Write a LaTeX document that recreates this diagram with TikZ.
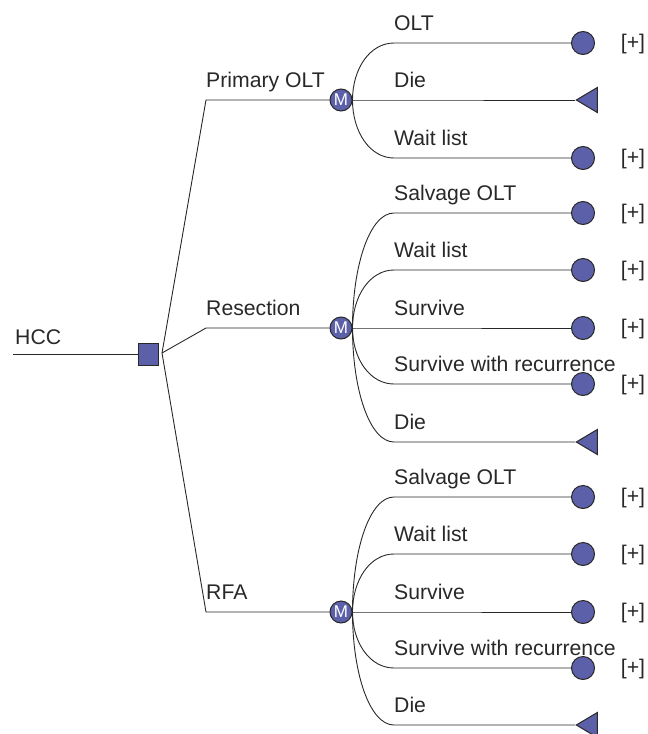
\documentclass[tikz,border=0pt]{standalone}
\usepackage{fontspec}
\setmainfont{Liberation Sans}
\usetikzlibrary{shapes.geometric}
\definecolor{nodeFill}{RGB}{92,96,168}
\definecolor{lineGray}{RGB}{40,40,40}
\begin{document}
\begin{tikzpicture}
[x=1pt,y=-1pt,
  lineDecorate/.style={-,line width=0.9pt,draw=lineGray},%
  decisionDecorate/.style={shape=rectangle,minimum width=20pt,minimum height=22pt,inner sep=0pt,draw=lineGray,line width=1pt,fill=nodeFill},%
  chanceDecorate/.style={shape=circle,minimum size=22pt,inner sep=0pt,draw=lineGray,line width=1pt,fill=nodeFill,text=white,font=\fontsize{17}{17}\selectfont},%
  endDecorate/.style={shape=circle,minimum size=23pt,inner sep=0pt,draw=lineGray,line width=1pt,fill=nodeFill},%
  dieDecorate/.style={shape=isosceles triangle,isosceles triangle stretches,shape border rotate=180,minimum width=25pt,minimum height=21pt,inner sep=0pt,draw=lineGray,line width=1pt,fill=nodeFill,anchor=apex},%
  textDecorate/.style={anchor=base west,inner sep=0pt,text=lineGray,font=\fontsize{21.2}{25}\selectfont}]
\useasboundingbox (0,0) rectangle (648,734);
%% root decision
\node (hcc) at (148,354) [decisionDecorate] {};
\coordinate (hccIn) at (13,354);
\coordinate (fork) at (162,353);
\node [textDecorate] at (15,344) {HCC};
\draw [lineDecorate] (hccIn) -- (hcc.west);
%% strategies
\foreach \nodename/\ypos/\caption in {
  olt/100/Primary OLT, res/328/Resection, rfa/612/RFA}
{
  \node (\nodename) at (341,\ypos) [chanceDecorate] {M};
  \coordinate (\nodename Bend) at (206,\ypos);
  \node [textDecorate] at (206,\ypos-13) {\caption};
  \draw [lineDecorate] (fork) -- (\nodename Bend) -- (\nodename);
}
%% outcomes
\foreach \parent/\py/\nodename/\ypos/\kind/\xpos/\caption in {
  olt/100/oltA/43/endDecorate/583/OLT,
  olt/100/oltB/100/dieDecorate/575/Die,
  olt/100/oltC/158/endDecorate/583/Wait list,
  res/328/resA/213/endDecorate/583/Salvage OLT,
  res/328/resB/270/endDecorate/583/Wait list,
  res/328/resC/328/endDecorate/583/Survive,
  res/328/resD/384/endDecorate/583/Survive with recurrence,
  res/328/resE/442/dieDecorate/575/Die,
  rfa/612/rfaA/497/endDecorate/583/Salvage OLT,
  rfa/612/rfaB/554/endDecorate/583/Wait list,
  rfa/612/rfaC/612/endDecorate/583/Survive,
  rfa/612/rfaD/668/endDecorate/583/Survive with recurrence,
  rfa/612/rfaE/725/dieDecorate/575/Die}
{
  \pgfmathsetmacro{\bend}{0.552*(\ypos-\py)}
  \node (\nodename) at (\xpos,\ypos) [\kind] {};
  \coordinate (\nodename In) at (394,\ypos);
  \node [textDecorate] at (394,\ypos-13) {\caption};
  \draw [lineDecorate] (\parent.east) .. controls +(0,\bend) and +(-24,0) .. (\nodename In) -- (\nodename);
}
%% tags on the circles
\foreach \nodename in {oltA,oltC,resA,resB,resC,resD,rfaA,rfaB,rfaC,rfaD}
{
  \node [textDecorate,anchor=center] at ([xshift=50pt,yshift=-1pt]\nodename.center) {[+]};
}
\end{tikzpicture}
\end{document}
